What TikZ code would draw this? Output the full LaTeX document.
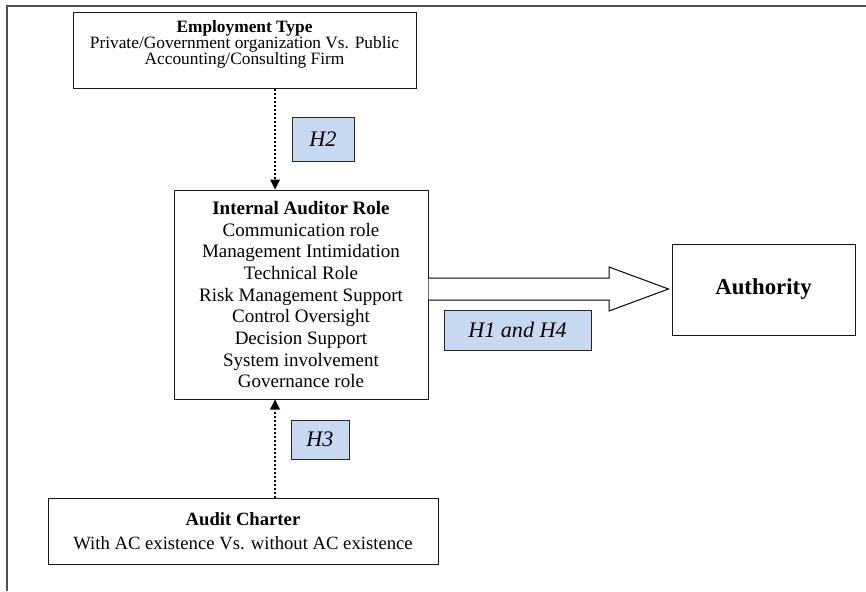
\documentclass[tikz,border=0pt]{standalone}
\usepackage{fontspec}
\setmainfont{Liberation Serif}
\usetikzlibrary{arrows.meta,calc}
\definecolor{hblue}{HTML}{C6D9F1}
\definecolor{frame}{HTML}{505050}
\begin{document}
\begin{tikzpicture}[x=0.6pt,y=-0.6pt,
  box/.style={draw=black!90,line width=0.6pt,inner sep=0pt,align=center},
  hbox/.style={draw=black!85,line width=0.6pt,fill=hblue,inner sep=0pt,font=\itshape\fontsize{13.3}{15}\selectfont},
  dotarrow/.style={line width=1.4pt,dash pattern=on 1.2pt off 1.2pt,-{Triangle[width=6pt,length=6pt,line width=0pt]}},
  bigarrow/.style={draw=black,line width=0.6pt,fill=white}]
\useasboundingbox (0,0) rectangle (866,591);
\draw[frame,line width=1pt] (866,6) -- (7,6) -- (7,591);
% boxes
\node[box,minimum width=343*0.6pt,minimum height=76*0.6pt] (emp) at (244.5,50) {};
\node[inner sep=0pt,align=center,font=\fontsize{10.4}{9.6}\selectfont] (emptext) at (244.5,44.5)
  {\textbf{Employment Type}\\Private/Government organization Vs. Public\\Accounting/Consulting Firm};
\node[box,minimum width=254*0.6pt,minimum height=209*0.6pt,font=\fontsize{11.4}{13}\selectfont] (iar) at (301,294.5)
  {\textbf{Internal Auditor Role}\\Communication role\\Management Intimidation\\Technical Role\\Risk Management Support\\Control Oversight\\Decision Support\\System involvement\\Governance role};
\node[box,minimum width=183*0.6pt,minimum height=91*0.6pt,font=\bfseries\fontsize{13.7}{16}\selectfont] (auth) at (763.5,289.5) {Authority};
\node[box,minimum width=390*0.6pt,minimum height=66*0.6pt,font=\fontsize{11.2}{14.4}\selectfont] (ac) at (243,531)
  {\textbf{Audit Charter}\\With AC existence Vs. without AC existence};
% hypothesis labels
\node[hbox,minimum width=62*0.6pt,minimum height=44*0.6pt] (h2) at (323,139) {H2\hspace{3.6pt}};
\node[hbox,minimum width=58*0.6pt,minimum height=39*0.6pt] (h3) at (320,439.5) {H3};
\node[hbox,minimum width=147*0.6pt,minimum height=40*0.6pt] (h14) at (517.5,330) {H1 and H4\hspace{9.6pt}};
% connectors
\coordinate (ax) at (275,0);
\draw[dotarrow] (emp.south -| ax) -- (iar.north -| ax);
\draw[dotarrow] (ac.north -| ax) -- (iar.south -| ax);
\draw[bigarrow] ($(iar.east |- 0,278)$) -- (609,278) -- (609,267) -- ($(auth.west |- 0,289)+(-3,0)$) -- (609,311) -- (609,300) -- ($(iar.east |- 0,300)$);
\end{tikzpicture}
\end{document}
